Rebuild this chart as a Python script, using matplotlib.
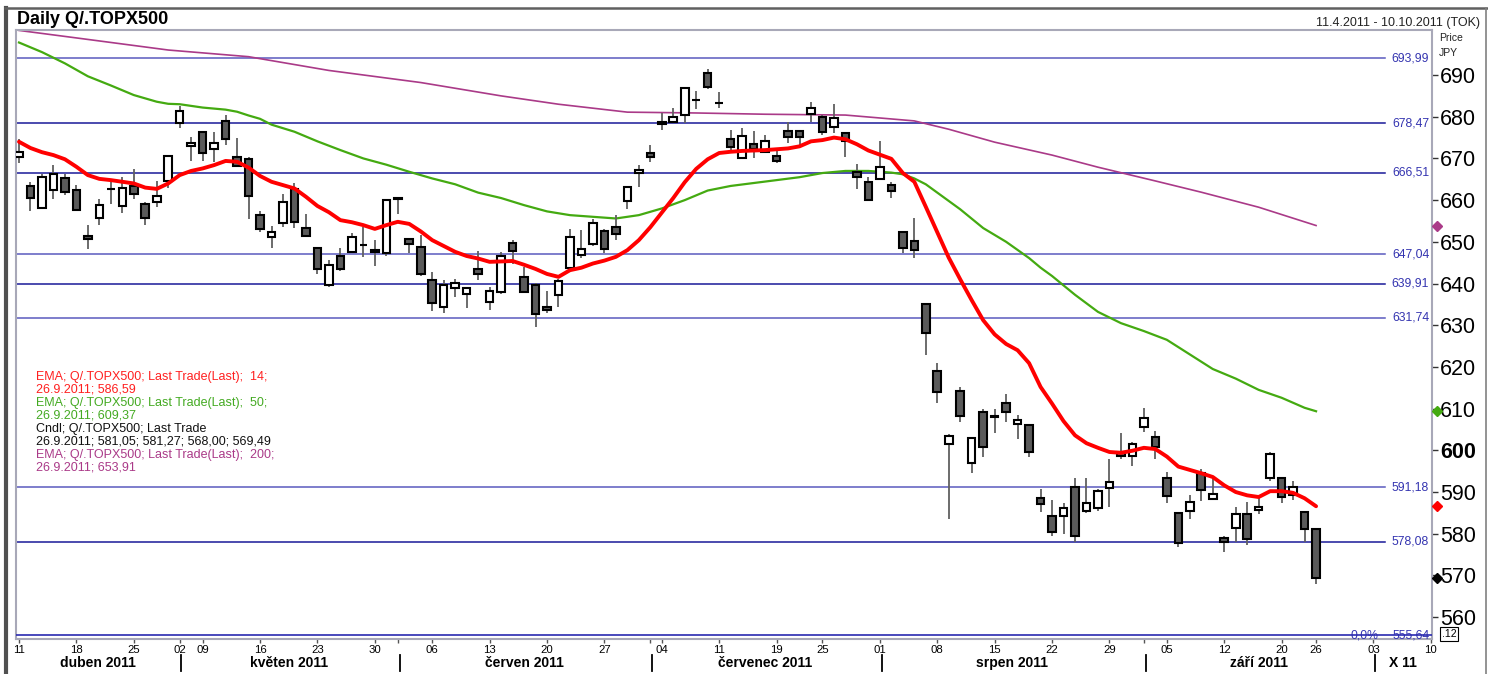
import matplotlib
matplotlib.use('Agg')
import matplotlib.pyplot as plt
import matplotlib.transforms as mtransforms
from matplotlib.patches import Rectangle
from matplotlib.lines import Line2D
import pandas as pd

plt.rcParams['font.family'] = ['Liberation Sans', 'DejaVu Sans']

# ---------------- data ----------------
holidays = ['2011-04-29', '2011-05-03', '2011-05-04', '2011-05-05',
            '2011-07-18', '2011-09-19', '2011-09-23']
dates = pd.bdate_range('2011-04-11', '2011-10-10', freq='C', holidays=holidays)

opens = [670.3, 663.4, 658.1, 662.4, 665.3, 662.4, 651.4, 655.7, 662.7, 658.6,
         663.4, 659.1, 659.5, 664.6, 678.5, 673.0, 676.3, 672.3, 679.0, 670.3,
         669.9, 656.4, 651.2, 654.5, 662.7, 653.3, 648.5, 639.6, 646.6, 647.6,
         649.2, 647.6, 647.3, 660.3, 650.7, 648.8, 640.8, 634.4, 638.9, 637.5,
         643.5, 635.6, 638.0, 649.7, 641.6, 639.6, 634.4, 637.2, 643.7, 646.8,
         649.5, 652.6, 653.5, 659.8, 666.5, 671.3, 678.3, 678.7, 680.4, 684.0,
         690.5, 683.3, 674.7, 670.1, 673.5, 671.5, 670.6, 676.6, 676.6, 680.6,
         679.9, 677.5, 676.1, 666.7, 664.3, 665.1, 663.6, 652.4, 650.2, 635.1,
         619.0, 601.5, 614.2, 597.0, 609.2, 608.2, 611.3, 606.3, 606.1, 588.6,
         584.2, 584.2, 591.2, 585.4, 586.2, 591.0, 599.6, 598.6, 605.6, 603.2,
         593.4, 585.0, 585.4, 594.6, 588.3, 578.9, 581.4, 584.7, 585.7, 593.4,
         593.4, 589.3, 585.2, 581.05]
highs = [674.7, 664.3, 666.3, 668.4, 666.3, 663.6, 654.0, 660.3, 664.8, 665.5,
         667.5, 659.5, 664.6, 670.8, 682.6, 675.1, 676.5, 676.3, 680.4, 674.9,
         670.3, 657.4, 653.8, 661.5, 664.1, 656.7, 648.7, 645.6, 648.6, 652.1,
         653.5, 650.4, 660.3, 660.6, 650.9, 651.6, 642.8, 640.8, 641.1, 639.2,
         647.8, 639.2, 647.6, 650.4, 644.0, 640.1, 638.2, 641.1, 653.1, 652.8,
         655.5, 653.1, 656.4, 663.3, 668.4, 673.2, 680.9, 682.1, 687.1, 686.2,
         691.4, 685.9, 676.8, 677.3, 676.6, 675.6, 672.5, 678.7, 676.8, 683.5,
         680.4, 683.0, 676.3, 668.7, 665.5, 674.2, 664.3, 652.6, 655.7, 635.3,
         620.9, 603.9, 615.2, 603.2, 609.9, 609.9, 613.5, 608.5, 606.3, 590.7,
         588.1, 587.4, 593.4, 593.4, 590.7, 597.9, 604.1, 602.0, 610.1, 604.6,
         594.8, 585.2, 589.3, 595.5, 593.8, 579.4, 586.4, 587.6, 589.3, 599.6,
         593.6, 592.6, 585.4, 581.27]
lows = [668.9, 657.4, 657.9, 660.3, 661.2, 657.5, 648.3, 654.0, 659.1, 656.9,
        660.3, 654.0, 658.4, 662.9, 677.3, 669.4, 669.4, 669.1, 673.2, 668.0,
        655.5, 652.4, 648.5, 653.5, 653.3, 651.2, 642.3, 639.2, 642.9, 647.3,
        646.4, 644.2, 646.6, 656.7, 647.3, 641.8, 633.4, 632.9, 636.8, 634.1,
        640.8, 633.6, 637.5, 644.7, 638.0, 629.6, 632.9, 634.4, 643.5, 646.1,
        649.0, 647.3, 650.4, 657.9, 663.1, 669.1, 676.8, 678.5, 678.5, 681.8,
        686.6, 682.1, 671.5, 669.9, 670.1, 671.3, 668.9, 673.7, 673.2, 678.7,
        675.6, 676.1, 670.3, 662.7, 659.9, 664.8, 660.5, 647.3, 646.1, 622.9,
        611.3, 583.5, 606.8, 594.6, 598.4, 604.1, 606.8, 602.7, 598.4, 585.2,
        579.4, 579.9, 578.0, 585.0, 585.4, 586.4, 597.9, 596.2, 604.4, 597.9,
        587.4, 576.8, 583.5, 587.8, 588.2, 575.6, 578.0, 577.3, 584.7, 592.6,
        587.4, 588.1, 578.0, 568.00]
closes = [671.5, 660.5, 665.5, 666.3, 661.9, 657.6, 650.7, 658.8, 662.6, 662.9,
          661.5, 655.7, 661.0, 670.6, 681.4, 673.7, 671.3, 673.7, 674.7, 668.2,
          661.0, 653.1, 652.4, 659.5, 654.7, 651.4, 643.5, 644.4, 643.6, 651.2,
          649.3, 648.0, 660.0, 660.4, 649.5, 642.3, 635.3, 639.6, 640.1, 638.9,
          642.3, 638.2, 646.6, 647.8, 638.0, 632.7, 633.6, 640.6, 651.2, 648.3,
          654.5, 648.3, 651.9, 663.1, 667.2, 670.3, 678.7, 679.9, 686.9, 684.1,
          687.1, 683.4, 672.7, 675.4, 672.3, 674.2, 669.4, 675.1, 675.1, 682.1,
          676.3, 679.7, 674.2, 665.5, 660.0, 667.9, 662.2, 648.5, 648.0, 628.1,
          614.0, 603.4, 608.2, 603.0, 600.8, 607.9, 609.2, 607.3, 599.6, 587.1,
          580.4, 586.2, 579.4, 587.4, 590.2, 592.4, 598.6, 601.5, 607.7, 600.8,
          589.0, 577.8, 587.6, 590.5, 589.5, 578.0, 584.7, 578.7, 586.4, 599.1,
          588.8, 591.2, 581.1, 569.49]

ema14 = [674.0, 672.5, 671.5, 670.8, 669.8, 668.0, 666.0, 665.1, 664.8, 664.4,
         664.0, 663.0, 662.7, 664.0, 666.0, 667.0, 667.6, 668.4, 669.4, 669.2,
         667.8, 665.8, 664.4, 663.6, 662.8, 660.8, 658.6, 657.1, 655.2, 654.7,
         654.0, 653.1, 654.0, 654.8, 654.3, 652.5, 650.4, 649.0, 647.6, 646.6,
         646.0, 645.2, 645.3, 645.4, 644.5, 643.5, 642.3, 641.6, 643.2, 643.8,
         644.8, 645.5, 646.4, 648.0, 650.4, 653.5, 657.0, 660.5, 664.3, 667.5,
         669.8, 671.3, 671.6, 671.8, 671.9, 672.0, 672.2, 672.4, 672.9, 674.1,
         674.4, 675.0, 674.6, 673.4, 671.9, 670.9, 669.9, 666.5, 664.4, 658.4,
         652.3, 646.2, 641.0, 636.0, 631.2, 627.8, 625.5, 624.0, 620.9, 615.2,
         611.2, 607.0, 603.6, 601.7, 600.6, 599.6, 599.4, 599.9, 600.6, 600.3,
         598.5, 596.1, 595.3, 594.5, 593.6, 591.6, 590.0, 589.2, 588.8, 590.2,
         590.2, 589.8, 588.5, 586.59]

ema50_idx = [0, 2, 4, 6, 8, 10, 12, 13, 14, 16, 18, 19, 20, 21, 22, 24, 26, 28, 30, 32,
             34, 36, 38, 40, 42, 44, 46, 48, 50, 52, 54, 56, 58, 60, 62, 64, 66, 68, 70, 72,
             74, 76, 77, 78, 79, 80, 81, 82, 84, 86, 88, 89, 90, 92, 94, 96, 98, 100, 102, 104,
             106, 108, 110, 112, 113]
ema50_val = [697.8, 695.5, 692.8, 689.7, 687.5, 685.2, 683.6, 683.1, 683.0, 682.2,
             681.7, 681.2, 680.3, 679.5, 678.1, 676.4, 674.1, 672.0, 670.0, 668.5,
             666.8, 665.2, 663.8, 661.8, 660.5, 658.8, 657.3, 656.4, 656.0, 655.6,
             656.4, 658.0, 660.0, 662.3, 663.4, 664.1, 664.8, 665.5, 666.5, 667.0,
             667.0, 666.6, 666.2, 665.2, 663.8, 661.8, 659.8, 657.8, 653.3, 650.0,
             646.1, 643.8, 641.8, 637.3, 633.2, 630.5, 628.6, 626.5, 623.0, 619.5,
             617.2, 614.5, 612.6, 610.2, 609.37]

ema200_idx = [0, 5, 13, 20, 27, 35, 42, 47, 53, 59, 65, 72, 78, 81, 85, 90, 94, 99, 103, 108, 113]
ema200_val = [700.7, 698.9, 696.0, 694.4, 691.1, 688.2, 685.0, 683.0, 681.1, 680.9,
              680.6, 680.4, 679.0, 677.0, 673.9, 670.8, 667.9, 664.6, 661.9, 658.3, 653.91]

levels = [693.99, 678.47, 666.51, 647.04, 639.91, 631.74, 591.18, 578.08]
level_dark = [False, True, True, False, True, False, False, True]
base_level = 555.64

month_names = ['duben 2011', 'květen 2011', 'červen 2011', 'červenec 2011',
               'srpen 2011', 'září 2011', 'X 11']

legend_lines = [
    ('EMA; Q/.TOPX500; Last Trade(Last);  14;', '#ff2020'),
    ('26.9.2011; 586,59', '#ff2020'),
    ('EMA; Q/.TOPX500; Last Trade(Last);  50;', '#44aa22'),
    ('26.9.2011; 609,37', '#44aa22'),
    ('Cndl; Q/.TOPX500; Last Trade', '#111111'),
    ('26.9.2011; 581,05; 581,27; 568,00; 569,49', '#111111'),
    ('EMA; Q/.TOPX500; Last Trade(Last);  200;', '#aa3a88'),
    ('26.9.2011; 653,91', '#aa3a88'),
]

# ---------------- figure ----------------
W, H = 1488, 674
fig = plt.figure(figsize=(W / 100, H / 100), dpi=100)
fig.patch.set_facecolor('white')
ax_l, ax_r, ax_t, ax_b = 16, 1432, 30, 639
ax = fig.add_axes([ax_l / W, 1 - ax_b / H, (ax_r - ax_l) / W, (ax_b - ax_t) / H])
ax.set_xlim(-0.26, 123.1)
ax.set_ylim(554.75, 700.8)
for sp in ax.spines.values():
    sp.set_color('#a8a8b8')
    sp.set_linewidth(1.5)

n = len(closes)
xs = list(range(n))
btr = mtransforms.blended_transform_factory(ax.transAxes, ax.transData)

# horizontal levels
for lv, dark in zip(levels, level_dark):
    col = '#1a1a99' if dark else '#5a5abf'
    ax.plot([-0.26, 119.0], [lv, lv], color=col, lw=1.1, zorder=1)
    ax.text(0.998, lv, f'{lv:.2f}'.replace('.', ','), color='#3434b0', fontsize=8.8,
            ha='right', va='center', transform=btr)
ax.plot([-0.26, 123.1], [base_level, base_level], color='#2a2ab0', lw=1.2, zorder=5)
ax.text(0.952, base_level, '0,0%', color='#3434b0', fontsize=8.8, ha='center', va='center', transform=btr)
ax.text(0.998, base_level, f'{base_level:.2f}'.replace('.', ','), color='#3434b0', fontsize=8.8,
        ha='right', va='center', transform=btr)

# EMA lines
ax.plot(ema200_idx, ema200_val, color='#aa3a88', lw=1.2, zorder=2)
ax.plot(ema50_idx, ema50_val, color='#44aa11', lw=1.6, zorder=2)
ax.plot(xs, ema14, color='#ff0000', lw=2.8, zorder=6, solid_capstyle='round')

# candles
bw = 0.66
for i, (o, h, l, c) in enumerate(zip(opens, highs, lows, closes)):
    ax.plot([i, i], [l, h], color='#606060', lw=1.3, zorder=3, solid_capstyle='butt')
    up = c >= o
    bottom = min(o, c)
    height = max(abs(c - o), 0.08)
    ax.add_patch(Rectangle((i - bw / 2, bottom), bw, height,
                           facecolor='white' if up else '#5a5a5a',
                           edgecolor='black', lw=1.5, zorder=4))

# right axis
ax.yaxis.tick_right()
ax.set_yticks(range(560, 700, 10))
ax.tick_params(axis='y', direction='out', length=4, width=1, color='#333333',
               labelsize=15.5, pad=2)
for t in ax.get_yticklabels():
    if t.get_text() == '600':
        t.set_fontweight('bold')

# markers on the right axis
mk = [(653.91, '#aa3a88'), (609.37, '#44aa11'), (586.59, '#ff0000'), (569.49, '#000000')]
for val, col in mk:
    ax.plot([1.0035], [val], marker='D', ms=5, color=col, transform=btr, clip_on=False, zorder=10)

# x axis: weekly ticks and month separators
week_ticks, week_labels, month_starts = [], [], []
for i, d in enumerate(dates):
    if i == 0 or d.isocalendar()[1] != dates[i - 1].isocalendar()[1]:
        week_ticks.append(i)
        week_labels.append(f'{d.day:02d}')
    if i > 0 and d.month != dates[i - 1].month:
        month_starts.append(i)
ax.set_xticks(week_ticks)
ax.set_xticklabels(week_labels)
ax.set_xticks(month_starts, minor=True)
ax.tick_params(axis='x', which='both', direction='out', length=3, width=1, color='#555555',
               labelsize=8.2, pad=1)

xtr = mtransforms.blended_transform_factory(ax.transData, ax.transAxes)
bounds = [-0.26] + month_starts + [123.1]
ymon = -(663 - ax_b) / (ax_b - ax_t)
for k, name in enumerate(month_names):
    ax.text((bounds[k] + bounds[k + 1]) / 2, ymon, name, fontsize=10, fontweight='bold',
            ha='center', va='center', transform=xtr, clip_on=False)
for ms_ in month_starts:
    ax.plot([ms_ + 0.15, ms_ + 0.15], [-(655 - ax_b) / (ax_b - ax_t), -(671 - ax_b) / (ax_b - ax_t)],
            color='black', lw=1.3, transform=xtr, clip_on=False)

# legend text
for k, (txt, col) in enumerate(legend_lines):
    fig.text(36 / W, 1 - (377 + 13.0 * k) / H, txt, color=col, fontsize=9.0, ha='left', va='center')

# titles
fig.text(17 / W, 1 - 20 / H, 'Daily Q/.TOPX500', fontsize=13, fontweight='bold', ha='left', va='center')
fig.text(1480 / W, 1 - 23 / H, '11.4.2011 - 10.10.2011 (TOK)', fontsize=9, ha='right', va='center',
         color='#222222')
fig.text(1439 / W, 1 - 38 / H, 'Price', fontsize=7.5, ha='left', va='center', color='#222222')
fig.text(1439 / W, 1 - 53 / H, 'JPY', fontsize=7.5, ha='left', va='center', color='#222222')
fig.text(1449 / W, 1 - 634 / H, '.12', fontsize=7.5, ha='center', va='center',
         bbox=dict(boxstyle='square,pad=0.15', fc='white', ec='black', lw=0.8))

# outer frame
fig.add_artist(Line2D([6 / W, 6 / W], [0, 1 - 8 / H], color='#505050', lw=3))
fig.add_artist(Line2D([5 / W, 1], [1 - 8 / H, 1 - 8 / H], color='#606060', lw=1.8))
fig.add_artist(Line2D([1486 / W, 1486 / W], [0, 1 - 8 / H], color='#808080', lw=1.2))

fig.savefig('out.png', dpi=100)
